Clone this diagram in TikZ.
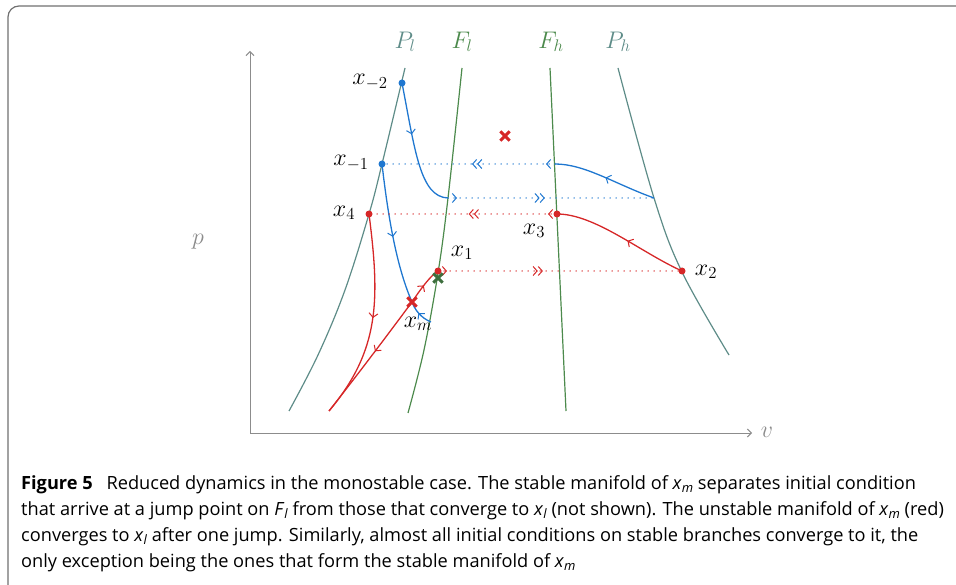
\documentclass[tikz,border=0pt]{standalone}
\usepackage{fix-cm}
\usepackage{fontspec}
\newfontfamily\capfont{Open Sans}
\usetikzlibrary{decorations.markings,arrows.meta,shapes.misc}
\definecolor{cblue}{HTML}{1F77D0}
\definecolor{cred}{HTML}{D62728}
\definecolor{cgreen}{HTML}{4C8A4C}
\definecolor{cteal}{HTML}{5E8C88}
\definecolor{caxis}{HTML}{8C8C8C}
\definecolor{cframe}{HTML}{707070}
\newcommand\capx[1]{\textit{x}\raisebox{-0.35ex}{\fontsize{13}{13}\selectfont\textit{#1}}}
\tikzset{
  lbl/.style={font=\fontsize{24}{28}\selectfont, inner sep=0pt},
  caption/.style={font=\capfont\fontsize{18.2}{26}\selectfont, anchor=base west, inner sep=0pt},
  curve/.style={line width=1.3pt},
  pline/.style={cteal, line width=1.2pt},
  fline/.style={cgreen, line width=1.2pt},
  axisline/.style={caxis, line width=1pt},
  marr/.style={postaction={decorate}, decoration={markings, mark=at position #1 with {\arrow[line width=1pt]{Straight Barb[length=4pt,width=9pt]}}}},
  jumpline/.style={line width=1.5pt, dash pattern=on 0pt off 6pt, line cap=round,
    postaction={decorate}, decoration={markings,
      mark=at position 9pt with {\arrow[line width=1pt,solid]{Straight Barb[length=4pt,width=9pt]}},
      mark=at position #1 with {\arrow[line width=1pt,solid]{Straight Barb[length=4pt,width=9pt] Straight Barb[length=4pt,width=9pt]}}}},
  dotpt/.style={circle, fill=#1, inner sep=0pt, minimum size=7pt},
  crosspt/.style={draw=#1, cross out, line width=2.9pt, inner sep=0pt, minimum size=6.5pt},
}
\begin{document}
\begin{tikzpicture}[x=1pt, y=-1pt]
\useasboundingbox (0,0) rectangle (956,585);
% frame
\draw[cframe, line width=1.2pt, rounded corners=11pt] (8,592) -- (8,6) -- (975,6);

% axes
\coordinate (O) at (250,433);
\coordinate (vend) at (752,433);
\coordinate (pend) at (250,51);
\draw[axisline, -{Straight Barb[length=4pt,width=8pt]}] (O) -- (vend);
\draw[axisline, -{Straight Barb[length=4pt,width=8pt]}] (O) -- (pend);
\node[lbl, text=caxis] (vlab) at (767,432) {$v$};
\node[lbl, text=caxis] (plab) at (198,242) {$p$};

% manifolds
\draw[pline] plot[smooth, tension=0.6] coordinates {(405,68) (382,164) (369,214) (345,290) (318,355) (289,411)};
\draw[fline] plot[smooth, tension=0.6] coordinates {(462,68) (448,198) (438,273) (424,350) (408,413)};
\draw[fline] (550,68) -- (566,411);
\draw[pline] plot[smooth, tension=0.6] coordinates {(618,68) (654,198) (682,272) (729,355)};

\node[lbl, text=cteal] (Pl) at (405,42) {$P_l$};
\node[lbl, text=cgreen] (Fl) at (462,42) {$F_l$};
\node[lbl, text=cgreen] (Fh) at (551,42) {$F_h$};
\node[lbl, text=cteal] (Ph) at (618,42) {$P_h$};

% points
\coordinate (xm2) at (402,83);
\coordinate (xm1) at (382,164);
\coordinate (fh1) at (555,164);
\coordinate (fl1) at (448,198);
\coordinate (ph1) at (654,198);
\coordinate (x4) at (369,214);
\coordinate (x3) at (557,214);
\coordinate (x1) at (438,271);
\coordinate (x2) at (682,271);
\coordinate (xm) at (412,302);
\coordinate (flb) at (431,322);
\coordinate (bot) at (329,411);

% blue trajectories
\draw[cblue, curve, marr=0.4] (xm2) .. controls (415,150) and (420,197) .. (fl1);
\draw[cblue, jumpline=0.47] (fl1) -- (ph1);
\draw[cblue, curve, marr=0.5] (ph1) .. controls (615,184) and (585,164) .. (fh1);
\draw[cblue, jumpline=0.48] (fh1) -- (xm1);
\draw[cblue, curve, marr=0.52] (xm1) .. controls (389,225) and (398,270) .. (xm);
\draw[cblue, curve, marr=0.55] (flb) .. controls (421,318) and (415,310) .. (xm);

% red trajectories
\draw[cred, curve, marr=0.45] (x2) .. controls (640,252) and (595,214) .. (x3);
\draw[cred, jumpline=0.47] (x3) -- (x4);
\draw[cred, curve, marr=0.5] (x4) .. controls (380,300) and (380,350) .. (bot);
\draw[cred, curve, marr=0.5] (xm) .. controls (420,290) and (430,276) .. (x1);
\draw[cred, curve, marr=0.45] (xm) .. controls (380,345) and (355,378) .. (bot);
\draw[cred, jumpline=0.43] (x1) -- (x2);

% markers
\node[dotpt=cblue] (dxm2) at (xm2) {};
\node[dotpt=cblue] (dxm1) at (xm1) {};
\node[dotpt=cred] (dx4) at (x4) {};
\node[dotpt=cred] (dx3) at (x3) {};
\node[dotpt=cred] (dx2) at (x2) {};
\node[crosspt=cgreen!80!black] (gx) at (438,278) {};
\node[dotpt=cred] (dx1) at (x1) {};
\node[crosspt=cred] (rxm) at (xm) {};
\node[crosspt=cred] (rx) at (505,136) {};

% point labels
\node[lbl] (lxm2) at (370,82) {$x_{-2}$};
\node[lbl] (lxm1) at (351,163) {$x_{-1}$};
\node[lbl] (lx4) at (344,213) {$x_4$};
\node[lbl] (lx1) at (462,253) {$x_1$};
\node[lbl] (lxm) at (418,324) {$x_m$};
\node[lbl] (lx3) at (534,231) {$x_3$};
\node[lbl] (lx2) at (706,272) {$x_2$};

% caption
\node[caption] (c1) at (21,489) {\textbf{Figure 5}\hspace{0.5em} Reduced dynamics in the monostable case. The stable manifold of \capx{m} separates initial condition};
\node[caption] (c2) at (21,515) {that arrive at a jump point on \textit{F}\raisebox{-0.35ex}{\fontsize{13}{13}\selectfont\textit{l}} from those that converge to \capx{l} (not shown). The unstable manifold of \capx{m} (red)};
\node[caption] (c3) at (21,541) {converges to \capx{l} after one jump. Similarly, almost all initial conditions on stable branches converge to it, the};
\node[caption] (c4) at (21,567) {only exception being the ones that form the stable manifold of \capx{m}};
\end{tikzpicture}
\end{document}
